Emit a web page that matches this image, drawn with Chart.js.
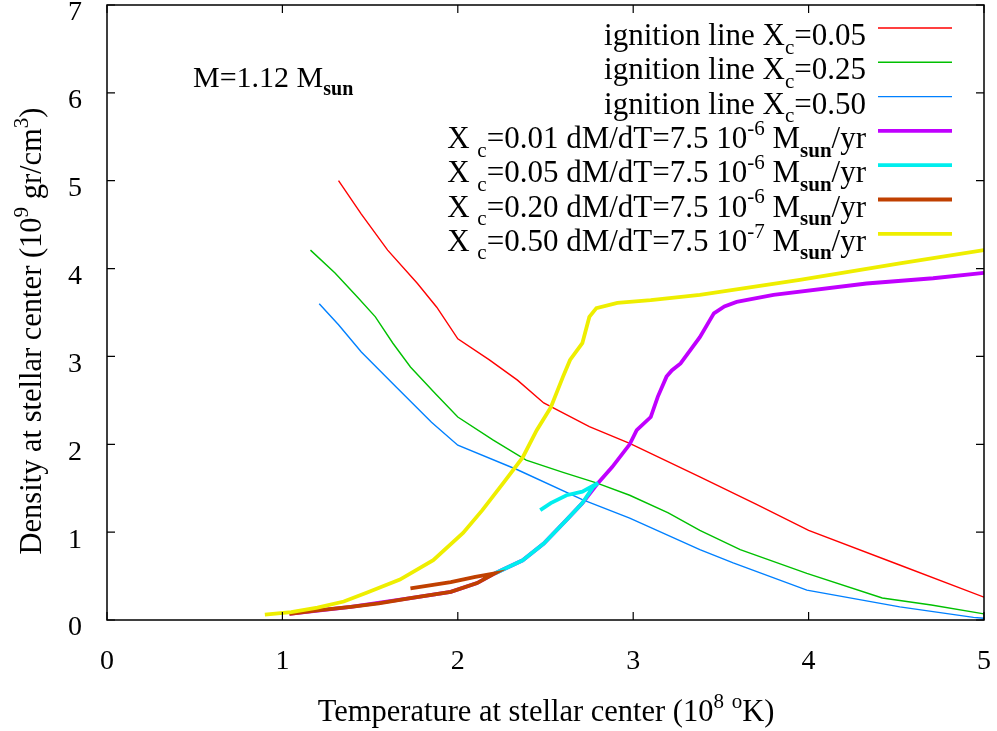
<!DOCTYPE html>
<html>
<head>
<meta charset="utf-8">
<script src="https://cdn.jsdelivr.net/npm/chart.js@4"></script>
<style>
  html, body { margin: 0; padding: 0; background: #fff; }
  #wrap { width: 997px; height: 731px; }
</style>
</head>
<body>
<div id="wrap"><canvas id="chart" width="997" height="731"></canvas></div>
<script>
// tick values
const xTicks = [0, 1, 2, 3, 4, 5];
const yTicks = [0, 1, 2, 3, 4, 5, 6, 7];

// ignition lines (T in 1e8 K, rho in 1e9 g/cm3)
const ign05T = [1.32, 1.45, 1.6, 1.77, 1.88, 2.0, 2.18, 2.34, 2.49, 2.75, 2.98, 3.38, 3.7, 4.0, 4.5, 5.0];
const ign05Rho = [5.0, 4.62, 4.21, 3.83, 3.56, 3.2, 2.96, 2.73, 2.47, 2.2, 2.01, 1.63, 1.32, 1.02, 0.64, 0.26];

const ign25T = [1.16, 1.3, 1.43, 1.53, 1.63, 1.73, 1.87, 2.0, 2.2, 2.39, 2.6, 2.79, 2.98, 3.2, 3.38, 3.61, 3.99, 4.42, 4.7, 5.0];
const ign25Rho = [4.21, 3.95, 3.67, 3.45, 3.15, 2.88, 2.58, 2.31, 2.05, 1.82, 1.68, 1.56, 1.42, 1.22, 1.02, 0.80, 0.53, 0.25, 0.17, 0.07];

const ign50T = [1.21, 1.32, 1.45, 1.65, 1.85, 2.0, 2.34, 2.71, 2.98, 3.38, 3.57, 3.99, 4.52, 4.94, 5.0];
const ign50Rho = [3.6, 3.36, 3.05, 2.65, 2.25, 1.99, 1.71, 1.37, 1.16, 0.80, 0.65, 0.34, 0.15, 0.03, 0.02];

// accretion tracks
const trk01T = [1.04, 1.39, 1.73, 1.96, 2.11, 2.21, 2.37, 2.49, 2.62, 2.71, 2.80, 2.88, 2.98, 3.02, 3.10, 3.14, 3.19, 3.22, 3.27, 3.38, 3.46, 3.52, 3.59, 3.80, 4.33, 4.71, 5.0];
const trk01Rho = [0.07, 0.15, 0.25, 0.32, 0.42, 0.53, 0.68, 0.87, 1.14, 1.33, 1.56, 1.74, 2.0, 2.16, 2.31, 2.54, 2.77, 2.84, 2.92, 3.22, 3.49, 3.57, 3.62, 3.70, 3.83, 3.89, 3.95];

const trk05T = [2.21, 2.37, 2.49, 2.62, 2.71, 2.77, 2.80, 2.71, 2.62, 2.53, 2.47];
const trk05Rho = [0.53, 0.68, 0.87, 1.14, 1.33, 1.51, 1.56, 1.46, 1.42, 1.33, 1.25];

const trk20T = [1.04, 1.2, 1.39, 1.55, 1.73, 1.96, 2.11, 2.21, 2.1, 1.96, 1.73];
const trk20Rho = [0.07, 0.11, 0.15, 0.19, 0.25, 0.32, 0.42, 0.53, 0.49, 0.43, 0.36];

const trk50T = [0.90, 1.05, 1.20, 1.35, 1.48, 1.67, 1.86, 2.03, 2.14, 2.26, 2.37, 2.45, 2.53, 2.60, 2.64, 2.71, 2.75, 2.79, 2.91, 3.10, 3.38, 3.95, 4.52, 5.0];
const trk50Rho = [0.06, 0.09, 0.14, 0.21, 0.31, 0.46, 0.68, 0.99, 1.25, 1.56, 1.85, 2.16, 2.42, 2.77, 2.96, 3.15, 3.45, 3.55, 3.61, 3.64, 3.70, 3.87, 4.06, 4.21];

const FONT = "'Liberation Serif', 'DejaVu Serif', serif";

// rich text parts: [text, kind] kind = n | sub | sup
const legendLabels = [
    [['ignition line X', 'n'], ['c', 'sub'], ['=0.05', 'n']],
    [['ignition line X', 'n'], ['c', 'sub'], ['=0.25', 'n']],
    [['ignition line X', 'n'], ['c', 'sub'], ['=0.50', 'n']],
    [['X ', 'n'], ['c', 'sub'], ['=0.01 dM/dT=7.5 10', 'n'], ['-6', 'sup'], [' M', 'n'], ['sun', 'sub'], ['/yr', 'n']],
    [['X ', 'n'], ['c', 'sub'], ['=0.05 dM/dT=7.5 10', 'n'], ['-6', 'sup'], [' M', 'n'], ['sun', 'sub'], ['/yr', 'n']],
    [['X ', 'n'], ['c', 'sub'], ['=0.20 dM/dT=7.5 10', 'n'], ['-6', 'sup'], [' M', 'n'], ['sun', 'sub'], ['/yr', 'n']],
    [['X ', 'n'], ['c', 'sub'], ['=0.50 dM/dT=7.5 10', 'n'], ['-7', 'sup'], [' M', 'n'], ['sun', 'sub'], ['/yr', 'n']]
];

const series = [
    { t: ign05T, r: ign05Rho, color: '#ff0000', width: 1.4 },
    { t: ign25T, r: ign25Rho, color: '#00c000', width: 1.4 },
    { t: ign50T, r: ign50Rho, color: '#0080ff', width: 1.4 },
    { t: trk01T, r: trk01Rho, color: '#c000ff', width: 3.8 },
    { t: trk05T, r: trk05Rho, color: '#00eeee', width: 3.8 },
    { t: trk20T, r: trk20Rho, color: '#c04000', width: 3.8 },
    { t: trk50T, r: trk50Rho, color: '#eeee00', width: 3.8 }
];

function zip(xs, ys) {
    return xs.map((x, i) => ({ x: x, y: ys[i] }));
}

function fontFor(kind, size, bold) {
    const s = kind === 'n' ? size : Math.round(size * 0.68);
    return (bold ? 'bold ' : '') + s + 'px ' + FONT;
}

function isBold(p) {
    return p[1] === 'sub' && p[0] === 'sun';
}

function richWidth(ctx, parts, size) {
    let w = 0;
    parts.forEach(p => {
        ctx.font = fontFor(p[1], size, isBold(p));
        w += ctx.measureText(p[0]).width;
    });
    return w;
}

// draws parts with baseline at y, starting at x (left) or ending at x (right)
function drawRich(ctx, parts, x, y, size, align) {
    let cx = x;
    if (align === 'right') cx = x - richWidth(ctx, parts, size);
    if (align === 'center') cx = x - richWidth(ctx, parts, size) / 2;
    ctx.textAlign = 'left';
    ctx.textBaseline = 'alphabetic';
    parts.forEach(p => {
        ctx.font = fontFor(p[1], size, isBold(p));
        let dy = 0;
        if (p[1] === 'sub') dy = size * 0.28;
        if (p[1] === 'sup') dy = -size * 0.42;
        ctx.fillText(p[0], cx, y + dy);
        cx += ctx.measureText(p[0]).width;
    });
}

const framePlugin = {
    id: 'frame',
    afterDatasetsDraw(chart) {
        const ctx = chart.ctx;
        const a = chart.chartArea;
        const xs = chart.scales.x;
        const ys = chart.scales.y;
        ctx.save();
        ctx.strokeStyle = '#000';
        ctx.lineWidth = 1.5;
        ctx.strokeRect(a.left, a.top, a.right - a.left, a.bottom - a.top);
        ctx.lineWidth = 1.2;
        ctx.beginPath();
        xTicks.forEach(v => {
            const px = xs.getPixelForValue(v);
            ctx.moveTo(px, a.bottom); ctx.lineTo(px, a.bottom - 8);
            ctx.moveTo(px, a.top); ctx.lineTo(px, a.top + 8);
        });
        yTicks.forEach(v => {
            const py = ys.getPixelForValue(v);
            ctx.moveTo(a.left, py); ctx.lineTo(a.left + 8, py);
            ctx.moveTo(a.right, py); ctx.lineTo(a.right - 8, py);
        });
        ctx.stroke();
        ctx.restore();
    }
};

const textPlugin = {
    id: 'texts',
    afterDraw(chart) {
        const ctx = chart.ctx;
        ctx.save();
        ctx.fillStyle = '#000';

        // legend
        const rowY0 = 28, rowStep = 34.3;
        legendLabels.forEach((parts, i) => {
            const y = rowY0 + i * rowStep;
            drawRich(ctx, parts, 866, y + 17, 31, 'right');
            ctx.strokeStyle = series[i].color;
            ctx.lineWidth = series[i].width;
            ctx.beginPath();
            ctx.moveTo(878, y);
            ctx.lineTo(952, y);
            ctx.stroke();
        });

        // mass label
        drawRich(ctx, [['M=1.12 M', 'n'], ['sun', 'sub']], 193, 87, 30, 'left');

        // x title
        drawRich(ctx, [['Temperature at stellar center (10', 'n'], ['8', 'sup'], [' ', 'n'], ['o', 'sup'], ['K)', 'n']], 546, 721, 30.5, 'center');

        // y title
        ctx.translate(41, 331);
        ctx.rotate(-Math.PI / 2);
        drawRich(ctx, [['Density at stellar center (10', 'n'], ['9', 'sup'], [' gr/cm', 'n'], ['3', 'sup'], [')', 'n']], 0, 0, 30.5, 'center');
        ctx.restore();
    }
};

const datasets = series.map((s, i) => ({
    data: zip(s.t, s.r),
    borderColor: s.color,
    borderWidth: s.width,
    showLine: true,
    pointRadius: 0,
    tension: 0,
    fill: false,
    order: series.length - i
}));

new Chart(document.getElementById('chart').getContext('2d'), {
    type: 'scatter',
    data: { datasets: datasets },
    options: {
        responsive: false,
        animation: false,
        events: [],
        layout: { padding: { top: 5, right: 13, left: 0, bottom: 0 } },
        plugins: {
            legend: { display: false },
            tooltip: { enabled: false }
        },
        scales: {
            x: {
                type: 'linear',
                min: 0,
                max: 5,
                grid: { display: false },
                border: { display: false },
                ticks: {
                    stepSize: 1,
                    padding: 17,
                    color: '#000',
                    font: { family: FONT, size: 28 }
                },
                afterFit(scale) {
                    scale.height = 111;
                    scale.paddingLeft = 0;
                    scale.paddingRight = 0;
                }
            },
            y: {
                type: 'linear',
                min: 0,
                max: 7,
                grid: { display: false },
                border: { display: false },
                ticks: {
                    stepSize: 1,
                    padding: 17,
                    labelOffset: 8,
                    color: '#000',
                    font: { family: FONT, size: 28 }
                },
                afterFit(scale) {
                    scale.width = 107;
                    scale.paddingTop = 0;
                    scale.paddingBottom = 0;
                }
            }
        }
    },
    plugins: [framePlugin, textPlugin]
});
</script>
</body>
</html>
